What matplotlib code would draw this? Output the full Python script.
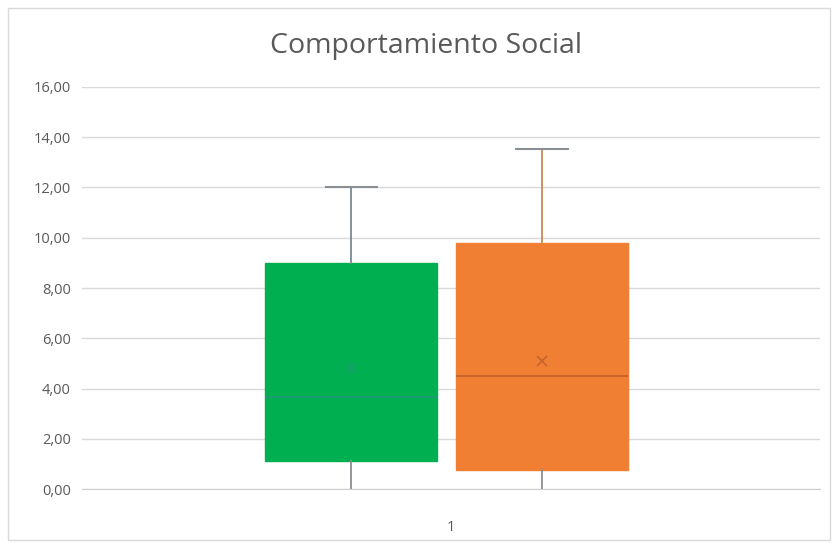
import matplotlib.pyplot as plt
from matplotlib.patches import Rectangle
from matplotlib.ticker import FuncFormatter

plt.rcParams['font.family'] = ['Open Sans', 'DejaVu Sans']

# Box statistics
labels = ['Grupo 1', 'Grupo 2']
whislo = [0.0, 0.0]
q1 = [1.1, 0.75]
med = [3.65, 4.5]
mean = [4.8, 5.1]
q3 = [9.0, 9.8]
whishi = [12.0, 13.55]
positions = [0.865, 1.123]

face_colors = ['#00b050', '#f07f34']
line_colors = ['#7a8a96', '#c98a55']
median_colors = ['#1f9a78', '#c8642a']

fig = plt.figure(figsize=(8.32, 5.43), dpi=100)
ax = fig.add_axes([0.0986, 0.0994, 0.887, 0.7404])

for i in range(len(labels)):
    st = [{'label': labels[i], 'whislo': whislo[i], 'q1': q1[i], 'med': med[i],
           'q3': q3[i], 'whishi': whishi[i], 'mean': mean[i], 'fliers': []}]
    parts = ax.bxp(st, positions=[positions[i]], widths=0.233, patch_artist=True,
                   showmeans=True, capwidths=0.07,
                   boxprops=dict(facecolor=face_colors[i], edgecolor=face_colors[i], linewidth=1),
                   whiskerprops=dict(color=line_colors[i], linewidth=1.3),
                   capprops=dict(color='#8a8f94', linewidth=1.5),
                   medianprops=dict(color=median_colors[i], linewidth=1.3),
                   meanprops=dict(marker='x', markeredgecolor=median_colors[i], markersize=7,
                                  markeredgewidth=1.2))
    parts['caps'][0].set_visible(False)
    parts['whiskers'][0].set_color('#8a8f94')

ax.set_xlim(0.5, 1.5)
ax.set_ylim(0, 16)
ax.set_yticks(range(0, 17, 2))
ax.yaxis.set_major_formatter(FuncFormatter(lambda v, p: f'{v:.2f}'.replace('.', ',')))
ax.set_xticks([1])
ax.set_xticklabels(['1'])
ax.tick_params(axis='both', length=0, labelsize=10.5, colors='#595959', pad=8)
ax.tick_params(axis='x', pad=22)
ax.grid(axis='y', color='#d9d9d9', linewidth=1)
ax.set_axisbelow(True)
for s in ['top', 'right', 'left']:
    ax.spines[s].set_visible(False)
ax.spines['bottom'].set_color('#d0d0d0')

fig.text(0.512, 0.915, 'Comportamiento Social', ha='center', va='center',
         fontsize=20.5, color='#595959')

fig.patches.append(Rectangle((0.01, 0.006), 0.988, 0.98, transform=fig.transFigure,
                             fill=False, edgecolor='#d9d9d9', linewidth=1))

fig.savefig('out.png', dpi=100)
